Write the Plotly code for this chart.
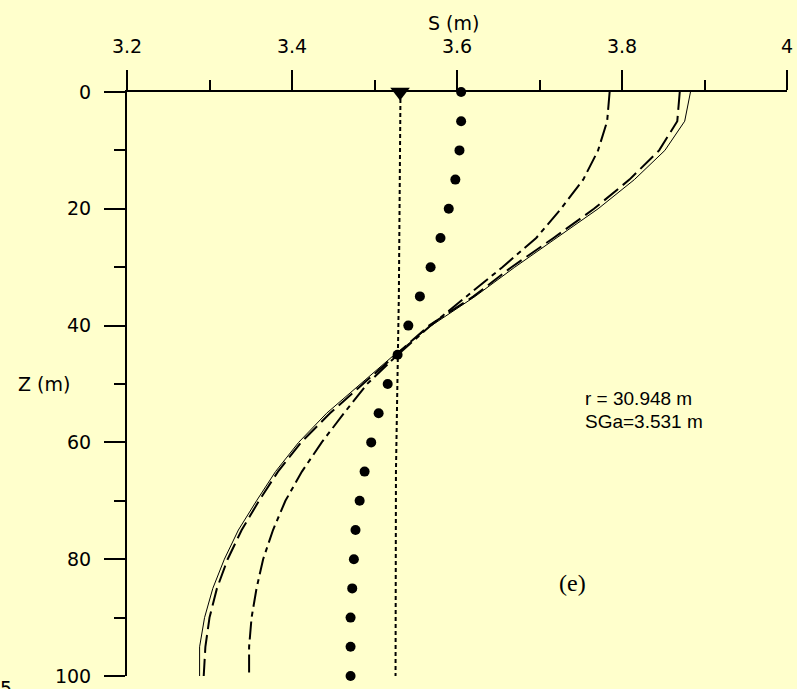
import plotly.graph_objects as go

# Depth values (m)
Z = [0, 5, 10, 15, 20, 25, 30, 35, 40, 45, 50, 55, 60, 65, 70, 75, 80, 85, 90, 95, 100]

# Solid thin curve
S_solid = [3.883, 3.876, 3.852, 3.815, 3.771, 3.721, 3.670, 3.622, 3.569, 3.524,
           3.483, 3.442, 3.408, 3.380, 3.357, 3.335, 3.318, 3.304, 3.294, 3.288, 3.288]
# Long-dashed curve
S_dash = [3.870, 3.867, 3.845, 3.809, 3.766, 3.717, 3.666, 3.620, 3.566, 3.526,
          3.485, 3.446, 3.411, 3.383, 3.360, 3.339, 3.322, 3.309, 3.300, 3.295, 3.293]
# Dash-dot curve
S_dashdot = [3.785, 3.782, 3.771, 3.753, 3.726, 3.696, 3.655, 3.612, 3.568, 3.528,
             3.491, 3.463, 3.436, 3.412, 3.392, 3.377, 3.365, 3.357, 3.351, 3.348, 3.348]
# Dots
S_dots = [3.605, 3.605, 3.603, 3.598, 3.590, 3.580, 3.568, 3.555, 3.541, 3.528,
          3.516, 3.505, 3.496, 3.488, 3.482, 3.477, 3.475, 3.473, 3.471, 3.471, 3.471]
# Vertical short-dash line (SGa)
Z_sga = [0, 35, 65, 100]
S_sga = [3.5315, 3.5295, 3.526, 3.5255]
SGa_marker = [3.531]

x_ticks = [3.2, 3.4, 3.6, 3.8, 4.0]
x_ticklabels = ["3.2", "3.4", "3.6", "3.8", "4"]
y_ticks = [0, 20, 40, 60, 80, 100]

BG = "#FFFFCC"
FONT = "DejaVu Sans"
FS = 19

fig = go.Figure()

fig.add_trace(go.Scatter(x=S_solid, y=Z, mode="lines",
                         line=dict(color="black", width=1), cliponaxis=False))
fig.add_trace(go.Scatter(x=S_dash, y=Z, mode="lines",
                         line=dict(color="black", width=2, dash="18px,6px"), cliponaxis=False))
fig.add_trace(go.Scatter(x=S_dashdot, y=Z, mode="lines",
                         line=dict(color="black", width=2, dash="18px,5px,5px,5px"), cliponaxis=False))
fig.add_trace(go.Scatter(x=S_sga, y=Z_sga, mode="lines",
                         line=dict(color="black", width=2, dash="4px,3px"), cliponaxis=False))
fig.add_trace(go.Scatter(x=S_dots, y=Z, mode="markers",
                         marker=dict(color="black", size=10), cliponaxis=False))
fig.add_trace(go.Scatter(x=SGa_marker, y=[0], mode="markers",
                         marker=dict(color="black", size=17, symbol="triangle-down"),
                         cliponaxis=False))

fig.update_layout(
    width=797, height=689,
    margin=dict(l=127, r=10, t=92, b=13),
    paper_bgcolor=BG, plot_bgcolor=BG,
    showlegend=False,
    font=dict(family=FONT, size=FS, color="black"),
    xaxis=dict(
        side="top", range=[3.2, 4.0], tickvals=x_ticks, ticktext=x_ticklabels,
        automargin=False,
        showgrid=False, zeroline=False, showline=True, linecolor="black", linewidth=2,
        ticks="outside", ticklen=20, tickwidth=2, tickcolor="black",
        ticklabelstandoff=9,
        minor=dict(dtick=0.1, tick0=3.2, ticks="outside", ticklen=10, tickwidth=2,
                   tickcolor="black", showgrid=False),
        tickfont=dict(family=FONT, size=FS),
    ),
    yaxis=dict(
        range=[100, 0], tickvals=y_ticks, automargin=False,
        showgrid=False, zeroline=False, showline=True, linecolor="black", linewidth=2,
        ticks="outside", ticklen=21, tickwidth=2, tickcolor="black",
        ticklabelstandoff=9,
        minor=dict(dtick=10, tick0=0, ticks="outside", ticklen=11, tickwidth=2,
                   tickcolor="black", showgrid=False),
        tickfont=dict(family=FONT, size=FS),
    ),
)

fig.add_annotation(text="S (m)", xref="paper", yref="paper", x=(453 - 127) / 660,
                   y=1 + (92 - 23) / 584, xanchor="center", yanchor="middle",
                   showarrow=False, font=dict(family=FONT, size=FS))
fig.add_annotation(text="Z (m)", xref="paper", yref="y", x=(44 - 127) / 660, y=50,
                   xanchor="center", yanchor="middle", showarrow=False,
                   font=dict(family=FONT, size=FS))
fig.add_annotation(text="r = 30.948 m", xref="x", yref="y", x=3.7527, y=52.4,
                   xanchor="left", yanchor="middle", showarrow=False,
                   font=dict(family="Liberation Sans", size=19))
fig.add_annotation(text="SGa=3.531 m", xref="x", yref="y", x=3.7527, y=56.5,
                   xanchor="left", yanchor="middle", showarrow=False,
                   font=dict(family="Liberation Sans", size=19))
fig.add_annotation(text="(e)", xref="x", yref="y", x=3.74, y=84.1,
                   xanchor="center", yanchor="middle", showarrow=False,
                   font=dict(family="Liberation Serif", size=24))
fig.add_annotation(text="5", xref="paper", yref="paper", x=(6 - 127) / 660,
                   y=-(688 - 676) / 584, xanchor="center", yanchor="middle",
                   showarrow=False, font=dict(family=FONT, size=FS))

# remove the default page margin so the figure sits at the window's top-left corner
fig.write_html("out.html",
               config={"displayModeBar": False},
               post_script="document.body.style.margin='0';"
                           "document.body.style.background='" + BG + "';")
